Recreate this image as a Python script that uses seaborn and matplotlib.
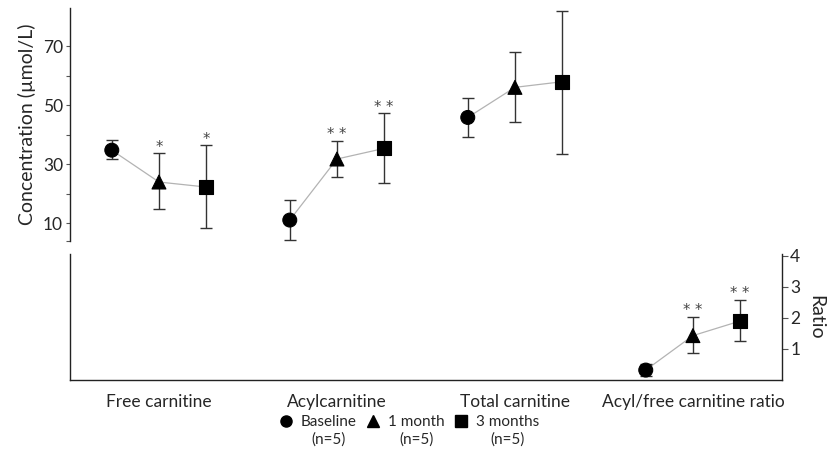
import numpy as np
import pandas as pd
import matplotlib
matplotlib.use("Agg")
import matplotlib.pyplot as plt
from matplotlib.lines import Line2D
import seaborn as sns

# ---- data -------------------------------------------------------------
concentration_labels = ["Free carnitine", "Acylcarnitine", "Total carnitine"]
ratio_labels = ["Acyl/free carnitine ratio"]
timepoints = ["Baseline", "1 month", "3 months"]
group_sizes = ["(n=5)", "(n=5)", "(n=5)"]

# concentrations (µmol/L): mean with lower / upper error bounds
baseline_mean = [34.7, 11.0, 45.8]
baseline_low = [31.7, 4.2, 39.2]
baseline_high = [38.1, 17.8, 52.5]
month1_mean = [23.9, 31.7, 56.0]
month1_low = [14.7, 25.5, 44.2]
month1_high = [33.7, 37.9, 67.9]
month3_mean = [22.2, 35.3, 57.9]
month3_low = [8.3, 23.5, 33.3]
month3_high = [36.4, 47.2, 82.0]

# significance marks vs. baseline
baseline_sig = ["", "", ""]
month1_sig = ["*", "**", ""]
month3_sig = ["*", "**", ""]

# acyl/free carnitine ratio, order: baseline, 1 month, 3 months
ratio_mean = [0.32, 1.43, 1.90]
ratio_low = [0.13, 0.86, 1.26]
ratio_high = [0.52, 2.04, 2.58]
ratio_sig = ["", "**", "**"]

conc_ticks = [10, 30, 50, 70]
conc_minor_ticks = [3.9, 20, 40, 60]
ratio_ticks = [1, 2, 3, 4]

# ---- tidy tables --------------------------------------------------------
offsets = {"Baseline": -0.265, "1 month": 0.0, "3 months": 0.265}
markers = {"Baseline": "o", "1 month": "^", "3 months": "s"}

rows = []
series = [
    ("Baseline", baseline_mean, baseline_low, baseline_high, baseline_sig),
    ("1 month", month1_mean, month1_low, month1_high, month1_sig),
    ("3 months", month3_mean, month3_low, month3_high, month3_sig),
]
for tp, m, lo, hi, sig in series:
    for i, name in enumerate(concentration_labels):
        rows.append(dict(measure=name, pos=i, timepoint=tp, mean=m[i],
                         low=lo[i], high=hi[i], sig=sig[i]))
conc = pd.DataFrame(rows)

ratio_pos = len(concentration_labels)
ratio = pd.DataFrame(dict(measure=ratio_labels[0], pos=ratio_pos,
                          timepoint=timepoints, mean=ratio_mean,
                          low=ratio_low, high=ratio_high, sig=ratio_sig))
for df in (conc, ratio):
    df["x"] = df["pos"] + df["timepoint"].map(offsets)

# ---- style --------------------------------------------------------------
sns.set_theme(style="white")
plt.rcParams["font.family"] = ["Lato", "DejaVu Sans"]
plt.rcParams["font.size"] = 12

fig = plt.figure(figsize=(8.29, 4.55), dpi=100)
ax_top = fig.add_axes([0.0844, 0.4703, 0.8588, 0.5121])
ax_bot = fig.add_axes([0.0844, 0.1648, 0.8588, 0.2770])

line_grey = "#b3b3b3"
bar_col = "#333333"
spine_col = "#222222"


def draw_panel(ax, df):
    sns.lineplot(data=df, x="x", y="mean", units="measure", estimator=None,
                 sort=False, color=line_grey, linewidth=0.9, ax=ax,
                 legend=False, zorder=1)
    ax.errorbar(df["x"], df["mean"],
                yerr=[df["mean"] - df["low"], df["high"] - df["mean"]],
                fmt="none", ecolor=bar_col, elinewidth=1.0, capsize=4.5,
                capthick=1.0, zorder=2)
    sns.scatterplot(data=df, x="x", y="mean", style="timepoint",
                    style_order=timepoints, markers=markers, color="black",
                    edgecolor="black", s=100, legend=False, ax=ax, zorder=3)
    for _, r in df.iterrows():
        if r["sig"]:
            ax.annotate(" ".join(r["sig"]), (r["x"], r["high"]),
                        xytext=(0, -1), textcoords="offset points",
                        ha="center", va="bottom", fontsize=10.5,
                        family="DejaVu Sans", color="#444444")
    ax.set_xlabel("")
    ax.set_ylabel("")


draw_panel(ax_top, conc)
draw_panel(ax_bot, ratio)

# top panel: concentrations
ax_top.set_xlim(-0.5, 3.5)
ax_top.set_ylim(3.9, 82.9)
ax_top.set_yticks(conc_ticks)
ax_top.set_yticks(conc_minor_ticks, minor=True)
ax_top.set_xticks([])
for s in ("top", "right", "bottom"):
    ax_top.spines[s].set_visible(False)
ax_top.spines["left"].set_color(spine_col)
ax_top.spines["left"].set_linewidth(1.0)
ax_top.tick_params(axis="y", which="both", direction="out", length=3,
                   width=0.8, color="#555555", labelsize=12.5, pad=2,
                   left=True)
ax_top.set_ylabel("Concentration (µmol/L)", fontsize=14, labelpad=5)

# bottom panel: ratio
ax_bot.set_xlim(-0.5, 3.5)
ax_bot.set_ylim(0, 4.06)
ax_bot.set_yticks(ratio_ticks)
ax_bot.yaxis.tick_right()
ax_bot.yaxis.set_label_position("right")
ax_bot.set_xticks(range(len(concentration_labels) + 1))
ax_bot.set_xticklabels(concentration_labels + ratio_labels, fontsize=12.5)
ax_bot.spines["top"].set_visible(False)
for s in ("left", "bottom", "right"):
    ax_bot.spines[s].set_color(spine_col)
    ax_bot.spines[s].set_linewidth(1.0)
ax_bot.tick_params(axis="x", length=0, pad=10)
ax_bot.tick_params(axis="y", direction="out", length=4, width=0.8,
                   color="#555555", labelsize=12.5, pad=2, right=True,
                   left=False)
ax_bot.set_ylabel("Ratio", fontsize=14, rotation=270, labelpad=17)

# legend with group sizes underneath
handles = [Line2D([], [], linestyle="none", marker=markers[t], color="black",
                  markersize=8) for t in timepoints]
leg = fig.legend(handles, timepoints, loc="center", ncol=3,
                 bbox_to_anchor=(0.493, 0.0715), frameon=False, fontsize=11,
                 handletextpad=0.45, columnspacing=0.6, handlelength=1.0,
                 borderpad=0)
fig.canvas.draw()
inv = fig.transFigure.inverted()
renderer = fig.canvas.get_renderer()
for txt, size in zip(leg.get_texts(), group_sizes):
    bb = txt.get_window_extent(renderer)
    (x0, y0), (x1, y1) = inv.transform([[bb.x0, bb.y0], [bb.x1, bb.y1]])
    fig.text((x0 + x1) / 2, y0 - 0.006, size, ha="center", va="top",
             fontsize=11)

fig.savefig("out.png", dpi=100)
